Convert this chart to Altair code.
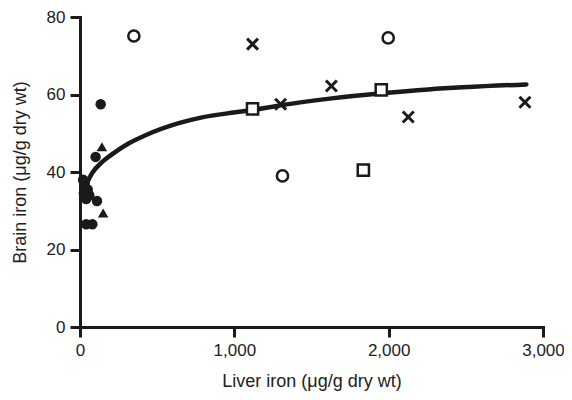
import altair as alt
import pandas as pd

# Filled circles
filled_x = [20, 30, 50, 25, 60, 40, 110, 40, 80, 101, 134]
filled_y = [38, 37, 35.5, 34.5, 34, 33, 32.5, 26.5, 26.5, 43.9, 57.5]
# Filled triangles
tri_x = [142, 150]
tri_y = [46.5, 29.4]
# Open circles
open_x = [349, 1312, 1997]
open_y = [75.1, 39, 74.6]
# Open squares
sq_x = [1118, 1836, 1952]
sq_y = [56.3, 40.5, 61.2]
# Crosses
cross_x = [1118, 1300, 1629, 2127, 2883]
cross_y = [73, 57.5, 62.2, 54.2, 58]
# Fitted curve
curve_x = [37, 80, 144, 209, 317, 425, 640, 791, 1007, 1114, 1416, 1631, 1955, 2256, 2892]
curve_y = [36.5, 39.8, 42.6, 44.6, 47.4, 49.5, 52.6, 54.1, 55.4, 56.0, 57.9, 59.0, 60.3, 61.3, 62.6]

x_ticks = [0, 1000, 2000, 3000]
y_ticks = [0, 20, 40, 60, 80]

INK = "#1a1a1a"
FONT = "Liberation Sans"

xs = alt.Scale(domain=[0, 3000], nice=False)
ys = alt.Scale(domain=[0, 80], nice=False)

x_axis = alt.Axis(values=x_ticks, format=",d", title="Liver iron (μg/g dry wt)",
                  titlePadding=14)
y_axis = alt.Axis(values=y_ticks, title="Brain iron (μg/g dry wt)", titlePadding=17)

def df(x, y):
    return pd.DataFrame({"x": x, "y": y})

curve = alt.Chart(df(curve_x, curve_y)).mark_line(
    color=INK, strokeWidth=4.5, interpolate="monotone", strokeCap="round"
).encode(x=alt.X("x:Q", scale=xs, axis=x_axis), y=alt.Y("y:Q", scale=ys, axis=y_axis))

def pts(x, y, **kw):
    return alt.Chart(df(x, y)).mark_point(**kw).encode(
        x=alt.X("x:Q", scale=xs, axis=x_axis), y=alt.Y("y:Q", scale=ys, axis=y_axis))

filled = pts(filled_x, filled_y, shape="circle", filled=True, fill=INK, size=110, opacity=1, strokeWidth=0)
tri = pts(tri_x, tri_y, shape="triangle-up", filled=True, fill=INK, size=110, opacity=1, strokeWidth=0)
opn = pts(open_x, open_y, shape="circle", filled=False, fill="white", fillOpacity=1,
          stroke=INK, strokeWidth=2.5, size=125, opacity=1)
sq = pts(sq_x, sq_y, shape="square", filled=False, fill="white", fillOpacity=1,
         stroke=INK, strokeWidth=2.5, size=125, opacity=1)
crs = pts(cross_x, cross_y, shape="M-1,-1L1,1M-1,1L1,-1", filled=False,
          stroke=INK, strokeWidth=3, size=120, opacity=1)

chart = alt.layer(curve, filled, tri, opn, sq, crs).properties(
    width=463, height=310,
    autosize=alt.AutoSizeParams(type="none"),
    padding={"left": 72, "top": 9, "right": 21, "bottom": 65},
).configure_view(stroke=None).configure_axis(
    grid=False, domainColor=INK, tickColor=INK, domainWidth=3, tickWidth=3,
    tickSize=10, labelFontSize=17, titleFontSize=18, titleFontWeight="normal",
    labelFont=FONT, titleFont=FONT, labelColor="#222", titleColor="#222",
    labelPadding=5, labelFlush=False, domainCap="square", tickCap="butt",
)

chart.save("out.html", embed_options={"renderer": "svg", "actions": False})
